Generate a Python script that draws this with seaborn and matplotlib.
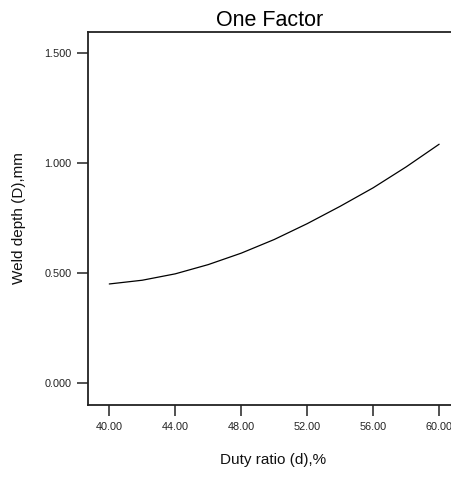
import matplotlib
matplotlib.use("Agg")
import matplotlib.pyplot as plt
import seaborn as sns
import pandas as pd

# Data
duty_ratio = [40, 42, 44, 46, 48, 50, 52, 54, 56, 58, 60]
weld_depth = [0.450, 0.467, 0.496, 0.538, 0.590, 0.652, 0.724, 0.803, 0.887, 0.982, 1.085]
x_ticks = [40, 44, 48, 52, 56, 60]
y_ticks = [0.0, 0.5, 1.0, 1.5]
title = "One Factor"
x_label = "Duty ratio (d),%"
y_label = "Weld depth (D),mm"

sns.set_style("white")
plt.rcParams['font.family'] = ['Liberation Sans', 'DejaVu Sans']

df = pd.DataFrame({"d": duty_ratio, "D": weld_depth})

W, H = 451, 484
fig = plt.figure(figsize=(W / 100, H / 100), dpi=100)
left, right, bottom, top = 88, 452, 405, 32
ax = fig.add_axes([left / W, (H - bottom) / H, (right - left) / W, (bottom - top) / H])

sns.lineplot(data=df, x="d", y="D", ax=ax, color="black", linewidth=0.9)

ax.set_xlim(38.71, 60.78)
ax.set_ylim(-0.1, 1.595)
ax.set_xticks(x_ticks)
ax.set_xticklabels([f"{v:.2f}" for v in x_ticks])
ax.set_yticks(y_ticks)
ax.set_yticklabels([f"{v:.3f}" for v in y_ticks])

for s in ["left", "bottom", "top"]:
    ax.spines[s].set_visible(True)
    ax.spines[s].set_color("#222222")
    ax.spines[s].set_linewidth(1.3)
ax.spines["right"].set_visible(False)

ax.tick_params(axis="both", direction="out", length=8, width=1.1, color="#222222",
               labelsize=7.8, labelcolor="#222222", pad=4,
               bottom=True, left=True)

ax.set_title(title, fontsize=15.5, color="black", pad=4)
ax.set_xlabel(x_label, fontsize=11, color="#111111")
ax.set_ylabel(y_label, fontsize=11, color="#111111")
ax.xaxis.set_label_coords((273 - left) / (right - left), -(460 - bottom) / (bottom - top))
ax.yaxis.set_label_coords(-(88 - 19) / (right - left), 0.5)
ax.xaxis.label.set_va("center")
ax.yaxis.label.set_va("center")

fig.savefig("out.png", dpi=100)
